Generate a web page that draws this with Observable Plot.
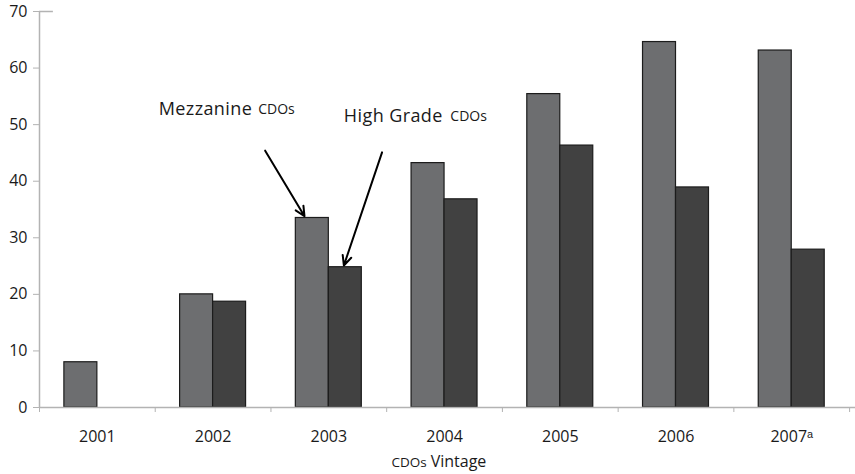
<!DOCTYPE html>
<html>
<head>
<meta charset="utf-8">
<script src="https://cdn.jsdelivr.net/npm/d3@7"></script>
<script src="https://cdn.jsdelivr.net/npm/@observablehq/plot@0.6"></script>
<style>
  html, body { margin: 0; padding: 0; background: #fff; }
  #chart { width: 855px; height: 474px; overflow: hidden; }
</style>
</head>
<body>
<div id="chart"></div>
<script>
// ---- data ----
const years = [2001, 2002, 2003, 2004, 2005, 2006, 2007];
const yearLabels = ["2001", "2002", "2003", "2004", "2005", "2006", "2007ᵃ"];
const mezzanine = [8.0, 20.0, 33.5, 43.2, 55.4, 64.6, 63.1];
const highGrade = [null, 18.7, 24.8, 36.8, 46.3, 38.9, 27.9];
const seriesNames = ["Mezzanine", "High Grade"];
const yTicks = [0, 10, 20, 30, 40, 50, 60, 70];

// annotation arrows (data coordinates)
const arrows = [
  {x1: 2002.45, y1: 45.4, x2: 2002.79, y2: 33.8},
  {x1: 2003.46, y1: 45.1, x2: 2003.13, y2: 25.1}
];
const labelsMain = [
  {x: 2001.53, y: 52.7, text: "Mezzanine"},
  {x: 2003.13, y: 51.5, text: "High Grade"}
];
const labelsSmall = [
  {x: 2002.39, y: 52.7, text: "CDOs"},
  {x: 2004.05, y: 51.5, text: "CDOs"}
];

// ---- table ----
const barHalf = 0.285;
const table = [];
years.forEach((yr, i) => {
  if (mezzanine[i] != null) table.push({year: yr, series: seriesNames[0], value: mezzanine[i], x1: yr - barHalf, x2: yr});
  if (highGrade[i] != null) table.push({year: yr, series: seriesNames[1], value: highGrade[i], x1: yr, x2: yr + barHalf});
});
const boundaries = years.map(y => y - 0.5).concat([years[years.length - 1] + 0.5]);

const axisGrey = "#b3b3b3";
const textColor = "#1a1a1a";

const chart = Plot.plot({
  width: 855,
  height: 474,
  marginTop: 11,
  marginLeft: 39,
  marginRight: 0,
  marginBottom: 67,
  style: {fontFamily: "'Open Sans', sans-serif", fontSize: "16px", color: textColor, background: "#fff"},
  x: {domain: [2000.5, 2007.551], axis: null},
  y: {domain: [0, 70], axis: null},
  color: {domain: seriesNames, range: ["#6d6e70", "#414141"]},
  marks: [
    // bars
    Plot.rectY(table, {x1: "x1", x2: "x2", y: "value", fill: "series", stroke: "#1c1c1c", strokeWidth: 1.2}),
    // axis lines
    Plot.ruleY([0], {stroke: axisGrey, strokeWidth: 1.5}),
    Plot.ruleX([2000.5], {y1: 0, y2: 70, stroke: axisGrey, strokeWidth: 1.5}),
    Plot.ruleY([70], {x1: 2000.5, x2: 2000.62, stroke: axisGrey, strokeWidth: 1.5}),
    // y axis
    Plot.axisY({ticks: yTicks, tickSize: 6, tickPadding: 6, stroke: axisGrey, fill: textColor, fontSize: 16}),
    // x boundary ticks
    Plot.axisX({ticks: boundaries, tickSize: 5, tickFormat: () => "", stroke: axisGrey}),
    // x labels
    Plot.axisX({ticks: years, tickSize: 0, tickPadding: 23, tickFormat: (d) => yearLabels[years.indexOf(d)], fill: textColor, fontSize: 16}),
    // x axis title
    Plot.text(["CDOs"], {x: 2003.88, frameAnchor: "bottom", dy: 59, textAnchor: "end", dx: -4, fontSize: 13.5, fill: textColor}),
    Plot.text(["Vintage"], {x: 2003.88, frameAnchor: "bottom", dy: 59, textAnchor: "start", fontSize: 16, fill: textColor}),
    // annotations
    Plot.arrow(arrows, {x1: "x1", y1: "y1", x2: "x2", y2: "y2", stroke: "#000", strokeWidth: 2, headLength: 8, headAngle: 50}),
    Plot.text(labelsMain, {x: "x", y: "y", text: "text", textAnchor: "start", fontSize: 18, fill: textColor}),
    Plot.text(labelsSmall, {x: "x", y: "y", text: "text", textAnchor: "start", fontSize: 14, fill: textColor})
  ]
});
// slight letter spacing on the annotation words
const mainTexts = new Set(labelsMain.map(d => d.text));
d3.select(chart).selectAll("text")
  .filter(function() { return mainTexts.has(this.textContent); })
  .style("letter-spacing", "0.4px");
document.getElementById("chart").appendChild(chart);
</script>
</body>
</html>
